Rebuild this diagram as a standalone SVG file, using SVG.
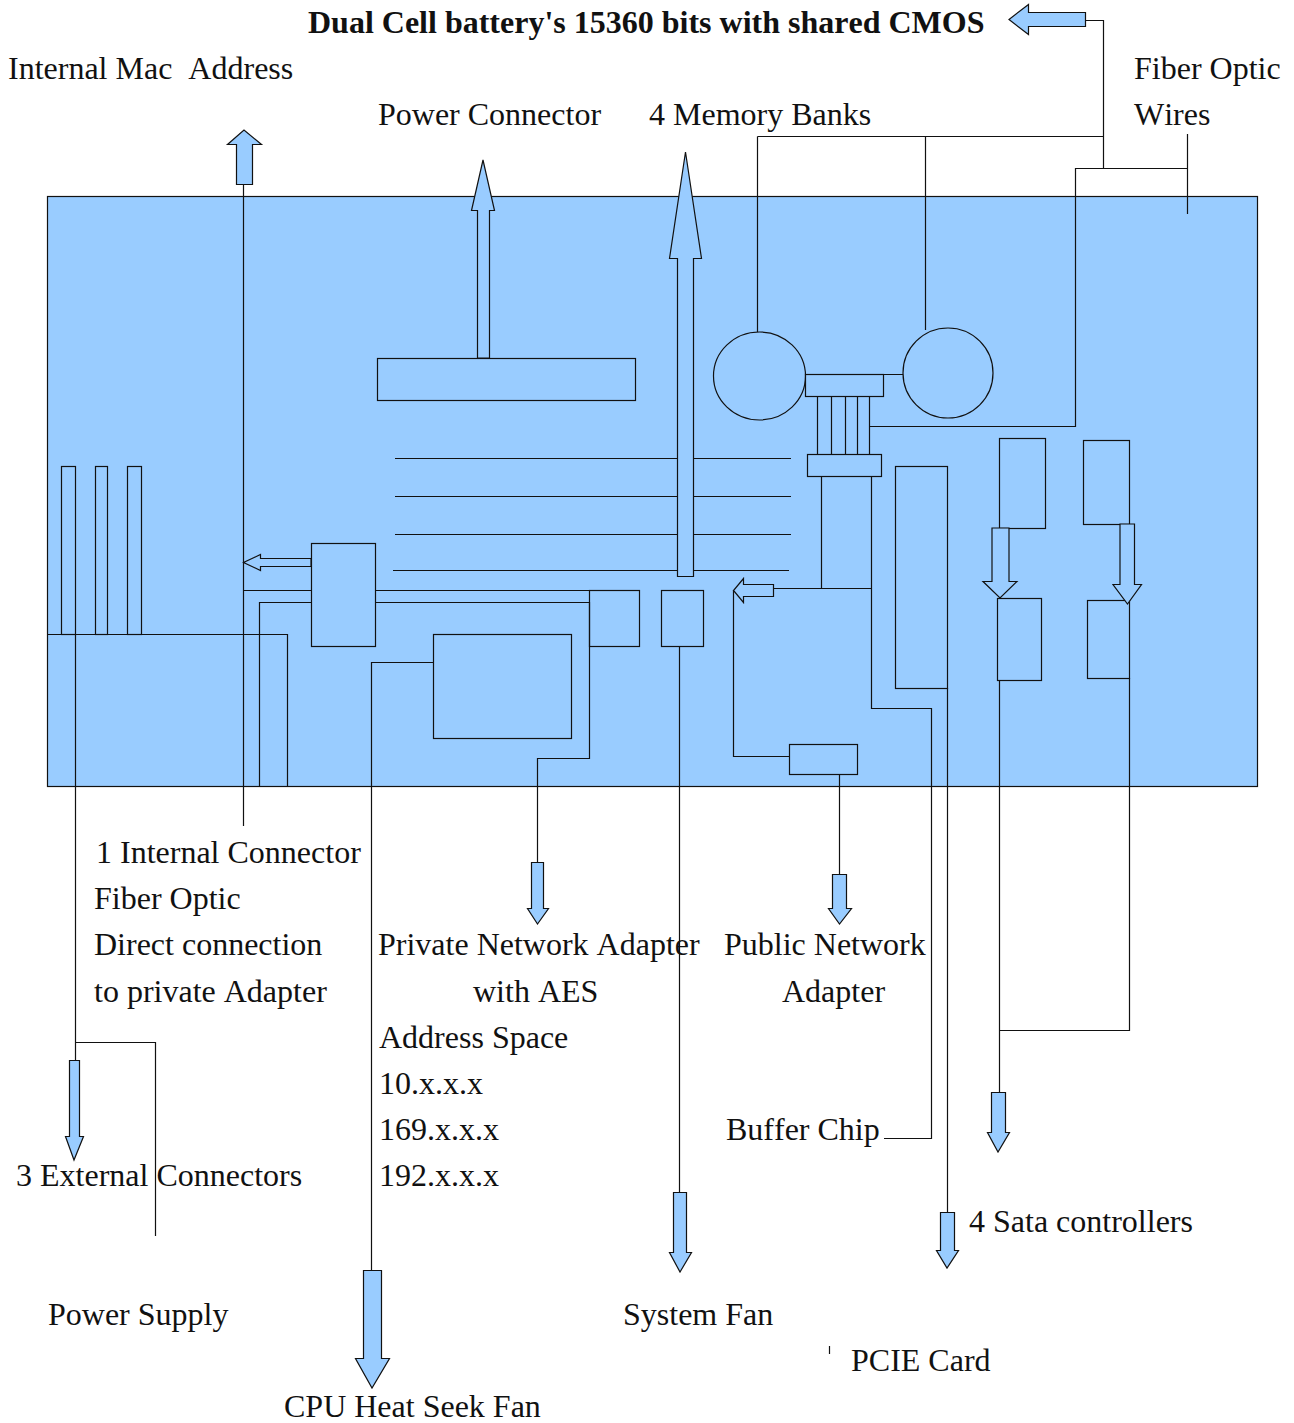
<svg xmlns="http://www.w3.org/2000/svg" width="1294" height="1423" viewBox="0 0 1294 1423">
<style>
text{font-family:"Liberation Serif","Times New Roman",serif;font-size:32px;font-kerning:none;fill:#111;white-space:pre}
.b{font-weight:bold}
.s{fill:#99ccff;stroke:#111;stroke-width:1.2}
.l{fill:none;stroke:#111;stroke-width:1.2}
</style>
<rect width="1294" height="1423" fill="#fff"/>
<g id="board"><rect class="s" x="47.5" y="196.500" width="1210" height="590"/></g>
<g id="traces">
<path class="l" d="M395 458.500H791M395 496.500H791M395 534.500H791M393 570.500H789"/>
</g>
<g id="ports">
<rect class="s" x="61.500" y="466.500" width="14" height="168"/>
<rect class="s" x="95.500" y="466.500" width="12" height="168"/>
<rect class="s" x="127.500" y="466.500" width="14" height="168"/>
</g>
<g id="power-supply"><path class="l" d="M47.500 634.500H287.500V786"/></g>
<g id="power-connector"><rect class="s" x="377.500" y="358.500" width="258" height="42"/></g>
<g id="bridge"><rect class="s" x="311.500" y="543.500" width="64" height="103"/></g>
<g id="cpu"><rect class="s" x="433.500" y="634.500" width="138" height="104"/></g>
<g id="private-adapter"><rect class="s" x="589.500" y="590.500" width="50" height="56"/></g>
<g id="fan-header"><rect class="s" x="661.500" y="590.500" width="42" height="56"/></g>
<g id="public-adapter"><rect class="s" x="789.500" y="744.500" width="68" height="30"/></g>
<g id="pcie-slot"><rect class="s" x="895.500" y="466.500" width="52" height="222"/></g>
<g id="memory-bank-1"><ellipse class="s" cx="759.500" cy="376" rx="46" ry="44"/></g>
<g id="memory-bank-2"><ellipse class="s" cx="948" cy="373" rx="45" ry="45"/></g>
<g id="chip-top"><rect class="s" x="805.500" y="374.500" width="78" height="22"/></g>
<g id="chip-bottom"><rect class="s" x="807.500" y="454.500" width="74" height="22"/></g>
<g id="sata-1"><rect class="s" x="999.500" y="438.500" width="46" height="90"/></g>
<g id="sata-2"><rect class="s" x="1083.500" y="440.500" width="46" height="84"/></g>
<g id="sata-3"><rect class="s" x="997.500" y="598.500" width="44" height="82"/></g>
<g id="sata-4"><rect class="s" x="1087.500" y="600.500" width="42" height="78"/></g>
<g id="connectors">
<path class="l" d="M75.500 634V1060M75.500 1042.500H155.500V1236"/>
<path class="l" d="M243.500 184V826M243.500 590.500H311M259.500 786V602.500H311"/>
<path class="l" d="M375 590.500H589M375 602.500H589.500V758.500H537.500V862"/>
<path class="l" d="M433 662.500H371.500V1270"/>
<path class="l" d="M679.500 646V1192"/>
<path class="l" d="M774 588.500H871.500M821.500 476V588M871.500 476V708.500H931.500V1138.500H884"/>
<path class="l" d="M733.500 590V756.500H789M839.500 774V874"/>
<path class="l" d="M947.500 688V1212"/>
<path class="l" d="M817.500 396V454M831.500 396V454M845.500 396V454M857.500 396V454M869.500 396V454M883 374.500H903"/>
<path class="l" d="M869.500 426.500H1075.500V168.500H1187.500M1187.500 134V214"/>
<path class="l" d="M1085 20.500H1103.500V168M757.500 136.500H1103.500M757.500 136.500V332M925.500 136.500V330"/>
<path class="l" d="M999.500 680V1092M999.500 1030.500H1129.500V678"/>
<path class="l" d="M829.500 1346V1354"/>
</g>
<g id="arrows">
<path class="s" d="M311 558.500H260.500V554.500L243.500 562.500L260.500 570.500V566.500H311Z"/>
<path class="s" d="M477.500 358V210.500H471.500L483 160L494.500 210.500H489.500V358Z"/>
<path class="s" d="M677.500 576.500V258.500H669.500L685.500 152L701.500 258.500H693.500V576.500Z"/>
<path class="s" d="M773.500 584.500H743.500V578.500L733.500 590.500L743.500 602.500V596.500H773.500Z"/>
<path class="s" d="M236.500 184.500V144.500H227.500L244 130L261.500 144.500H252.500V184.500Z"/>
<path class="s" d="M1085.500 12.500H1028.500V4.500L1009 19.500L1028.500 34.500V26.500H1085.500Z"/>
<path class="s" d="M992 528V581.500H983L1000 598L1017 581.500H1009V528Z"/>
<path class="s" d="M1120 524V584.500H1113L1127.500 604L1141.500 584.500H1134.500V524Z"/>
<path class="s" d="M69.500 1060.500V1136.500H65.500L74 1160L83.500 1136.500H79.500V1060.500Z"/>
<path class="s" d="M531.500 862.500V908.500H527.500L537.500 924L548.500 908.500H543.500V862.500Z"/>
<path class="s" d="M832.500 874.500V908.500H828.500L839.500 924L851.500 908.500H846.500V874.500Z"/>
<path class="s" d="M363.500 1270.500V1358.500H355.500L372 1388L389.500 1358.500H381.500V1270.500Z"/>
<path class="s" d="M673.500 1192.500V1252.500H669.500L680 1272L691.500 1252.500H686.500V1192.500Z"/>
<path class="s" d="M940.500 1212.500V1250.500H936.500L947 1268L958.500 1250.500H954.500V1212.500Z"/>
<path class="s" d="M991.500 1092.500V1132.500H987.500L998 1152L1009.500 1132.500H1005.500V1092.500Z"/>
</g>
<g id="labels">
<text class="b" x="308" y="33">Dual Cell battery's 15360 bits with shared CMOS</text>
<text x="8" y="79">Internal Mac  Address</text>
<text x="1134" y="79">Fiber Optic</text>
<text x="1134" y="125">Wires</text>
<text x="378" y="125">Power Connector</text>
<text x="649" y="125">4 Memory Banks</text>
<text x="96" y="863">1 Internal Connector</text>
<text x="94" y="909">Fiber Optic</text>
<text x="94" y="955">Direct connection</text>
<text x="94" y="1002">to private Adapter</text>
<text x="378" y="955">Private Network Adapter</text>
<text x="473" y="1002">with AES</text>
<text x="379" y="1048">Address Space</text>
<text x="379" y="1094">10.x.x.x</text>
<text x="379" y="1140">169.x.x.x</text>
<text x="379" y="1186">192.x.x.x</text>
<text x="724" y="955">Public Network</text>
<text x="782" y="1002">Adapter</text>
<text x="726" y="1140">Buffer Chip</text>
<text x="16" y="1186">3 External Connectors</text>
<text x="48" y="1325">Power Supply</text>
<text x="623" y="1325">System Fan</text>
<text x="969" y="1232">4 Sata controllers</text>
<text x="851" y="1371">PCIE Card</text>
<text x="284" y="1417">CPU Heat Seek Fan</text>
</g>
</svg>
